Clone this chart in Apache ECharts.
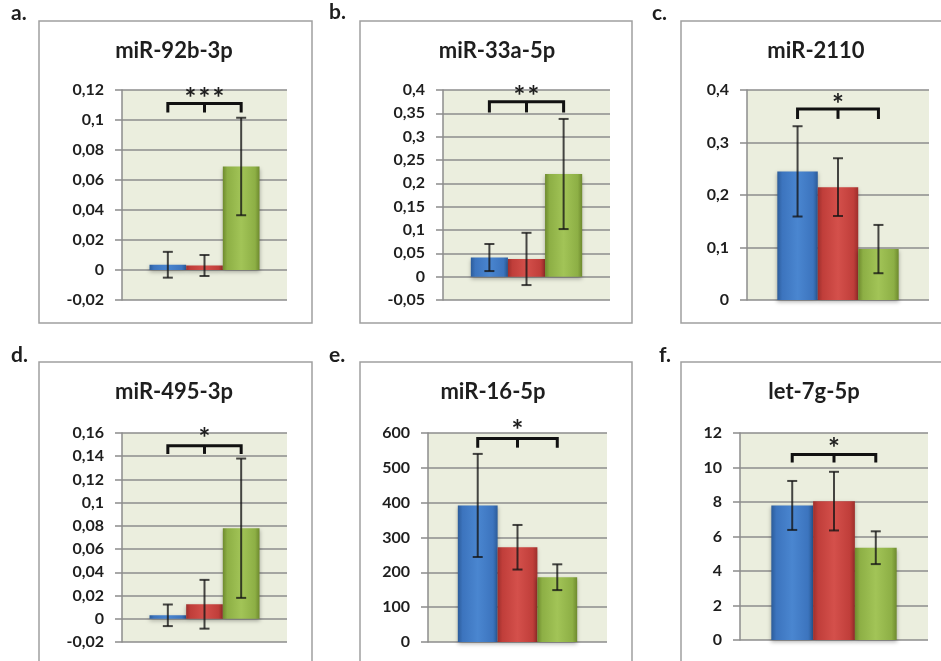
<!DOCTYPE html>
<html>
<head>
<meta charset="utf-8">
<script src="https://cdn.jsdelivr.net/npm/echarts@6/dist/echarts.min.js"></script>
<style>
  html, body { margin: 0; background: #fff; }
  #chart { width: 941px; height: 661px; }
</style>
</head>
<body>
<div id="chart"></div>
<script>
// 数据
const genes = ['miR-92b-3p', 'miR-33a-5p', 'miR-2110', 'miR-495-3p', 'miR-16-5p', 'let-7g-5p'];
const panelLetters = ['a.', 'b.', 'c.', 'd.', 'e.', 'f.'];

const blueMean  = [0.0035, 0.041, 0.245, 0.003, 392, 7.8];
const blueErr   = [0.0086, 0.029, 0.086, 0.0093, 148, 1.42];
const redMean   = [0.003, 0.038, 0.215, 0.0125, 272, 8.05];
const redErr    = [0.007, 0.056, 0.055, 0.021, 64, 1.7];
const greenMean = [0.069, 0.22, 0.097, 0.078, 186, 5.35];
const greenErr  = [0.0325, 0.118, 0.046, 0.06, 37, 0.95];

// y axis ticks
const yMin  = [-0.02, -0.05, 0, -0.02, 0, 0];
const yMax  = [0.12, 0.4, 0.4, 0.16, 600, 12];
const yStep = [0.02, 0.05, 0.1, 0.02, 100, 2];

// significance brackets
const stars       = ['***', '**', '*', '*', '*', '*'];
const bracketTop  = [0.111, 0.375, 0.364, 0.149, 584, 10.76];
const bracketLeg  = [0.105, 0.352, 0.345, 0.142, 558, 10.29];
const starLevel   = [0.114, 0.386, 0.372, 0.155, 606, 11.1];

// layout (pixels)
const gridBoxes = [
  { left: 122, top: 90, width: 165, height: 210 },
  { left: 443, top: 90, width: 167, height: 210 },
  { left: 747, top: 90, width: 182, height: 210 },
  { left: 122, top: 433, width: 165, height: 209 },
  { left: 428, top: 433, width: 179, height: 209 },
  { left: 740, top: 433, width: 188, height: 207 }
];
const frames = [
  [39, 21, 273, 302], [360, 21, 272, 302], [681, 21, 270, 302],
  [39, 362, 273, 310], [360, 362, 272, 310], [681, 362, 270, 310]
];
const titlePos = [[174, 40], [497, 40], [816, 40], [174, 381], [493, 381], [814, 381]];
const letterPos = [[11, 3], [329, 2], [652, 3], [11, 345], [329, 345], [659, 345]];

const FONT = 'Lato, "Open Sans", sans-serif';
const GRID_GREY = '#8c8c8c';
const TEXT_DARK = '#1e1e1e';

function barFill(dark, mid, light) {
  return new echarts.graphic.LinearGradient(0, 0, 1, 0, [
    { offset: 0, color: dark },
    { offset: 0.12, color: mid },
    { offset: 0.5, color: light },
    { offset: 0.88, color: mid },
    { offset: 1, color: dark }
  ]);
}
const fills = [
  barFill('#2c5c9a', '#3c74be', '#4a86d0'),
  barFill('#9e2f2c', '#c03e3a', '#d4504b'),
  barFill('#6e8a2e', '#8daf45', '#a2c457')
];

function fmt(v) {
  return String(parseFloat(v.toFixed(4))).replace('.', ',');
}

// 误差线
function renderErrorBar(params, api) {
  const band = api.size([1, 0])[0];
  const barW = band * 2 / 9;
  const x = api.coord([0, 0])[0] + (api.value(3) - 1) * barW;
  const mean = api.value(1), err = api.value(2);
  const yTop = api.coord([0, mean + err])[1];
  const yBot = api.coord([0, mean - err])[1];
  const cap = 5;
  const style = { stroke: 'rgba(20,20,20,0.78)', lineWidth: 2 };
  return {
    type: 'group',
    children: [
      { type: 'line', shape: { x1: x, y1: yTop, x2: x, y2: yBot }, style },
      { type: 'line', shape: { x1: x - cap, y1: yTop, x2: x + cap, y2: yTop }, style },
      { type: 'line', shape: { x1: x - cap, y1: yBot, x2: x + cap, y2: yBot }, style }
    ]
  };
}

// 显著性括号
function makeBracket(i) {
  return function (params, api) {
    const band = api.size([1, 0])[0];
    const barW = band * 2 / 9;
    const cx = api.coord([0, 0])[0];
    const yH = api.coord([0, api.value(1)])[1];
    const yL = api.coord([0, api.value(2)])[1];
    const yS = api.coord([0, api.value(3)])[1];
    const style = { stroke: '#111', lineWidth: 3, fill: null };
    const children = [
      { type: 'polyline', shape: { points: [[cx - barW, yL], [cx - barW, yH], [cx + barW, yH], [cx + barW, yL]] }, style },
      { type: 'line', shape: { x1: cx, y1: yH, x2: cx, y2: yL }, style }
    ];
    // 星号逐个摆放，间距较宽
    const chars = stars[i].split('');
    chars.forEach((c, k) => {
      children.push({
        type: 'text',
        style: {
          x: cx + (k - (chars.length - 1) / 2) * 14, y: yS, text: c,
          align: 'center', verticalAlign: 'middle',
          fontSize: 28, fontWeight: 'bold', fontFamily: FONT, fill: TEXT_DARK
        }
      });
    });
    return { type: 'group', children };
  };
}

const grids = [], xAxes = [], yAxes = [], series = [], graphics = [], titles = [];

genes.forEach((gene, i) => {
  grids.push(Object.assign({
    show: true, backgroundColor: '#ebeede', borderWidth: 0, containLabel: false
  }, gridBoxes[i]));

  xAxes.push({
    type: 'category', gridIndex: i, data: [gene],
    axisLine: { show: false }, axisTick: { show: false }, axisLabel: { show: false }
  });

  yAxes.push({
    type: 'value', gridIndex: i,
    min: yMin[i], max: yMax[i], interval: yStep[i],
    axisLine: { show: true, lineStyle: { color: GRID_GREY, width: 1.5 } },
    axisTick: { show: true, length: 7, lineStyle: { color: GRID_GREY, width: 1.5 } },
    splitLine: { show: true, lineStyle: { color: GRID_GREY, width: 1.5 } },
    axisLabel: {
      formatter: fmt, margin: 18,
      fontFamily: FONT, fontWeight: 'bold', fontSize: 16, color: TEXT_DARK
    }
  });

  const means = [blueMean[i], redMean[i], greenMean[i]];
  const errs = [blueErr[i], redErr[i], greenErr[i]];

  means.forEach((m, g) => {
    series.push({
      type: 'bar', xAxisIndex: i, yAxisIndex: i,
      data: [m],
      barGap: '0%', barCategoryGap: '33.33%',
      itemStyle: {
        color: fills[g],
        shadowBlur: 4, shadowOffsetY: 2, shadowColor: 'rgba(0,0,0,0.3)'
      },
      silent: true, z: 2
    });
  });

  series.push({
    type: 'custom', xAxisIndex: i, yAxisIndex: i,
    renderItem: renderErrorBar,
    data: means.map((m, g) => [0, m, errs[g], g]),
    silent: true, z: 5
  });

  series.push({
    type: 'custom', xAxisIndex: i, yAxisIndex: i,
    renderItem: makeBracket(i),
    data: [[0, bracketTop[i], bracketLeg[i], starLevel[i]]],
    clip: false, silent: true, z: 6
  });

  titles.push({
    text: gene, left: titlePos[i][0], top: titlePos[i][1], textAlign: 'center', padding: 0,
    textStyle: { fontFamily: FONT, fontWeight: 'bold', fontSize: 22, color: TEXT_DARK }
  });

  const f = frames[i];
  graphics.push({
    type: 'rect', silent: true, z: -10,
    shape: { x: f[0], y: f[1], width: f[2], height: f[3] },
    style: { fill: null, stroke: '#a0a0a0', lineWidth: 1.5 }
  });
  graphics.push({
    type: 'text', silent: true,
    x: letterPos[i][0], y: letterPos[i][1],
    style: {
      text: panelLetters[i], fontSize: 21, fontWeight: 'bold', fontFamily: FONT, fill: TEXT_DARK
    }
  });
});

const chart = echarts.init(document.getElementById('chart'));
chart.setOption({
  animation: false,
  backgroundColor: '#fff',
  title: titles,
  grid: grids,
  xAxis: xAxes,
  yAxis: yAxes,
  series: series,
  graphic: graphics
});
</script>
</body>
</html>
